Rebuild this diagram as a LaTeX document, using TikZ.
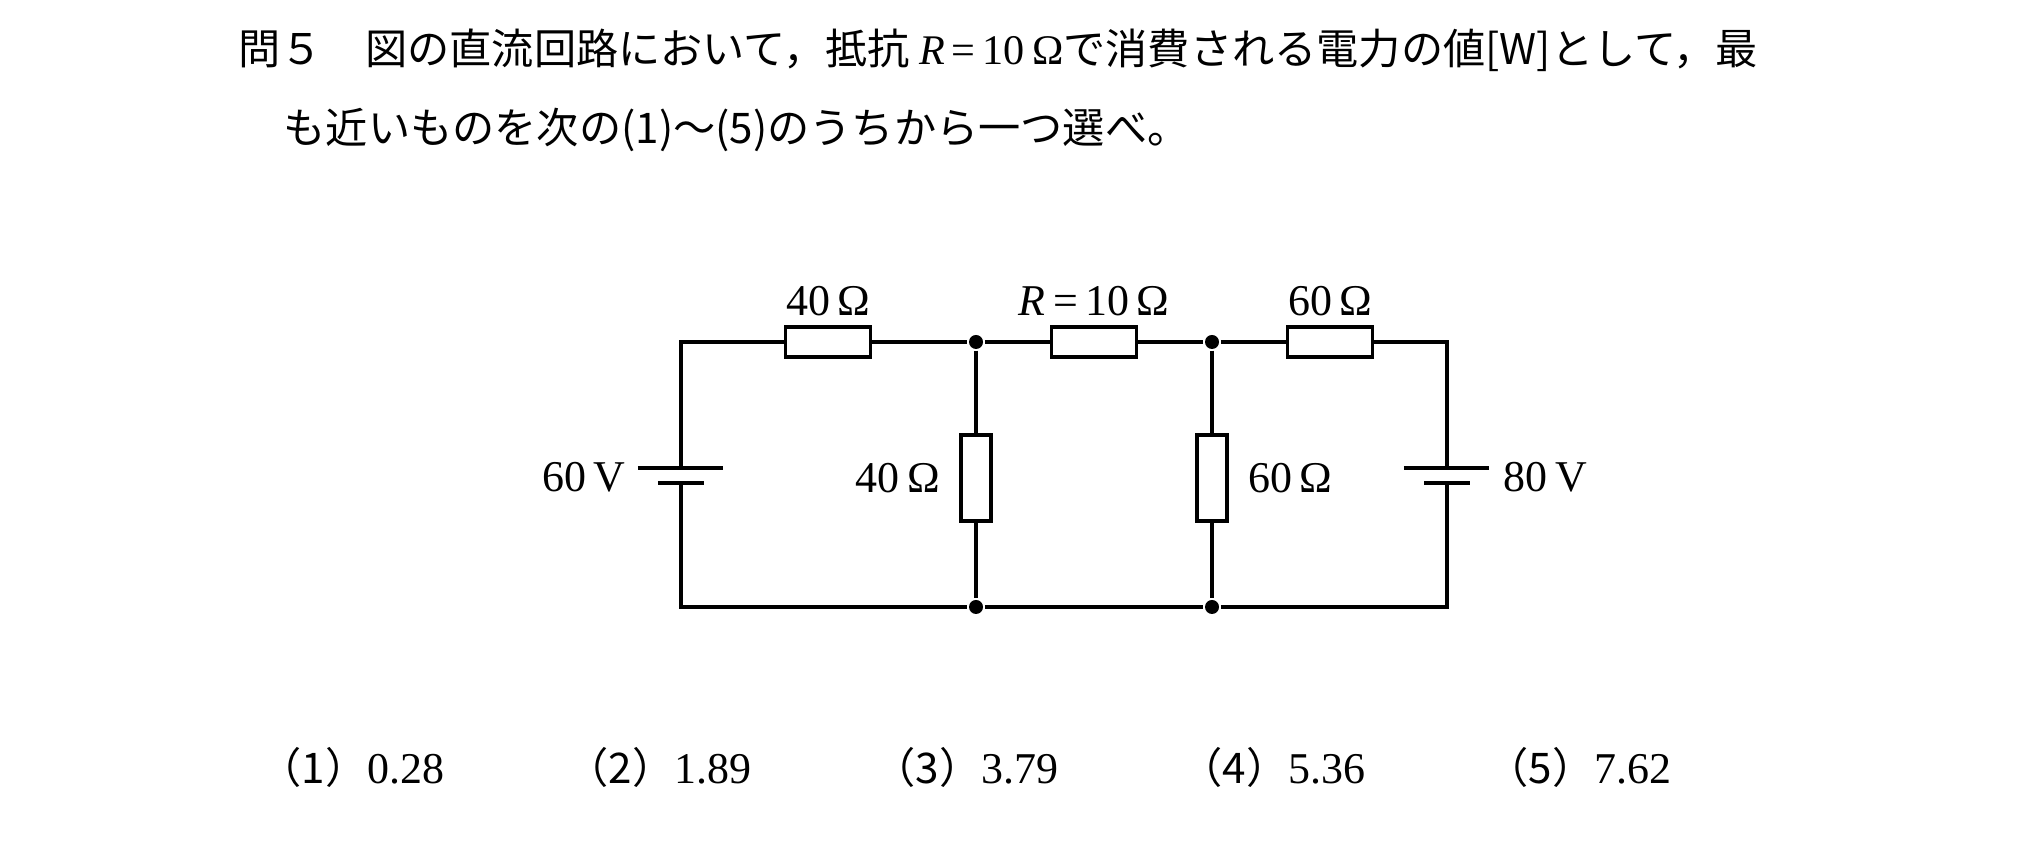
\documentclass[tikz,border=0pt]{standalone}
\usepackage{fontspec}
\setmainfont{Liberation Serif}
\newfontfamily\cjk{Noto Sans CJK JP}
\usetikzlibrary{positioning}

\begin{document}
\begin{tikzpicture}[x=0.01cm,y=-0.01cm,line width=1pt,
    txt/.style={font=\fontsize{12}{14}\selectfont\cjk,anchor=west,inner sep=0pt},
    lab/.style={font=\fontsize{12.5}{14}\selectfont,inner sep=0pt},
    hres/.style={draw,fill=white,minimum width=0.85cm,minimum height=0.3cm,inner sep=0pt},
    vres/.style={draw,fill=white,minimum width=0.3cm,minimum height=0.86cm,inner sep=0pt},
    dot/.style={circle,fill,inner sep=0pt,minimum size=0.14cm}]
  \useasboundingbox (0,0) rectangle (2030,862);
  % question text
  \node[txt] (q1) at (237,50) {問５\quad 図の直流回路において，抵抗 {\rmfamily\itshape R}{\rmfamily\,=\,10\,Ω}で消費される電力の値[W]として，最};
  \node[txt] (q2) at (282,130) {も近いものを次の(1)～(5)のうちから一つ選べ。};
  % corners and junctions
  \coordinate (tl) at (681,342);
  \coordinate (bl) at (681,607);
  \coordinate (tr) at (1447,342);
  \coordinate (br) at (1447,607);
  \node[dot] (ta) at (976,342) {};
  \node[dot] (tb) at (1212,342) {};
  \node[dot] (ba) at (976,607) {};
  \node[dot] (bb) at (1212,607) {};
  % resistors
  \node[hres] (r1) at (828,342) {};
  \node[hres] (r2) at (1094,342) {};
  \node[hres] (r3) at (1330,342) {};
  \node[vres] (r4) at (976,478) {};
  \node[vres] (r5) at (1212,478) {};
  % batteries
  \coordinate (e1p) at (681,468);
  \coordinate (e1n) at (681,483);
  \coordinate (e2p) at (1447,468);
  \coordinate (e2n) at (1447,483);
  \draw (e1p) -- (tl) -- (r1) -- (ta) -- (r2) -- (tb) -- (r3) -- (tr) -- (e2p);
  \draw (e1n) -- (bl) -- (ba) -- (bb) -- (br) -- (e2n);
  \draw (ta) -- (r4) -- (ba) (tb) -- (r5) -- (bb);
  \draw[line width=1.3pt] ([xshift=-0.43cm]e1p) -- ([xshift=0.42cm]e1p) ([xshift=-0.23cm]e1n) -- ([xshift=0.23cm]e1n);
  \draw[line width=1.3pt] ([xshift=-0.43cm]e2p) -- ([xshift=0.42cm]e2p) ([xshift=-0.23cm]e2n) -- ([xshift=0.23cm]e2n);
  % labels
  \node[lab] at (828,301) {40\,Ω};
  \node[lab] at (1094,301) {\textit{R}\,=\,10\,Ω};
  \node[lab] at (1330,301) {60\,Ω};
  \node[lab,anchor=east] at (627,477) {60\,V};
  \node[lab,left=5pt of r4] {40\,Ω};
  \node[lab,right=5pt of r5] {60\,Ω};
  \node[lab,anchor=west] at (1502,477) {80\,V};
  % choices
  \foreach \i/\v/\x in {1/0.28/258,2/1.89/565,3/3.79/872,4/5.36/1179,5/7.62/1485}
    \node[txt] (c\i) at (\x,767) {（\i）{\rmfamily\fontsize{12.5}{14}\selectfont\v}};
\end{tikzpicture}
\end{document}
